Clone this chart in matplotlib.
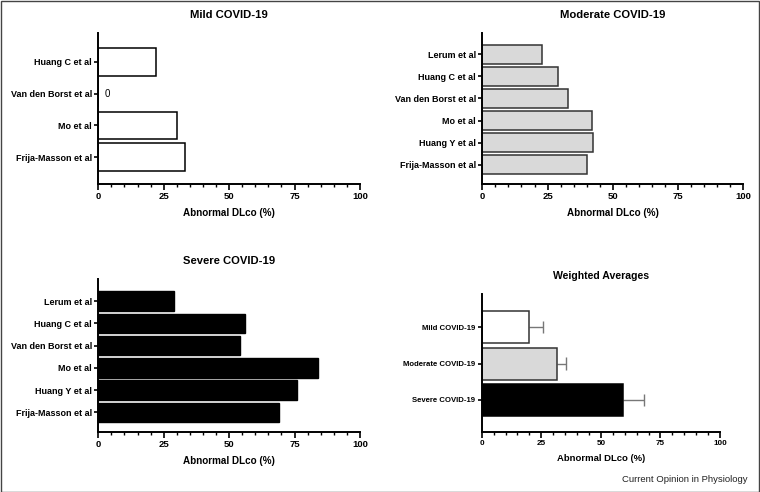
import matplotlib
matplotlib.use("Agg")
import matplotlib.pyplot as plt
from matplotlib.ticker import MultipleLocator
from matplotlib.patches import Rectangle

plt.rcParams['font.family'] = ['Liberation Sans', 'DejaVu Sans']

# ---- data ----
mild_studies = ["Frija-Masson et al", "Mo et al", "Van den Borst et al", "Huang C et al"]
mild_values = [33, 30, 0, 22]

moderate_studies = ["Frija-Masson et al", "Huang Y et al", "Mo et al",
                    "Van den Borst et al", "Huang C et al", "Lerum et al"]
moderate_values = [40, 42.3, 42, 33, 29, 23]

severe_studies = ["Frija-Masson et al", "Huang Y et al", "Mo et al",
                  "Van den Borst et al", "Huang C et al", "Lerum et al"]
severe_values = [69, 76, 84, 54, 56, 29]

avg_groups = ["Severe COVID-19", "Moderate COVID-19", "Mild COVID-19"]
avg_values = [59.5, 31.7, 20]
avg_errors = [8.7, 3.6, 5.9]

xticks = [0, 25, 50, 75, 100]
xlabel = "Abnormal DLco (%)"

W, H = 760, 492
fig = plt.figure(figsize=(W / 100, H / 100), dpi=100)


def axes_px(l, r, t, b):
    return fig.add_axes([l / W, 1 - b / H, (r - l) / W, (b - t) / H])


def style(ax, labels, tick_fs, xl_fs, ylim):
    ax.set_xlim(0, 100)
    ax.set_ylim(*ylim)
    for s in ("top", "right"):
        ax.spines[s].set_visible(False)
    for s in ("left", "bottom"):
        ax.spines[s].set_linewidth(1.4)
        ax.spines[s].set_color("black")
    ax.set_xticks(xticks)
    ax.xaxis.set_minor_locator(MultipleLocator(5))
    ax.set_yticks(range(len(labels)))
    ax.set_yticklabels(labels, fontsize=tick_fs, fontweight="bold")
    ax.tick_params(axis="x", which="major", length=4, width=1.2, labelsize=tick_fs + 0.3, pad=2)
    for t in ax.get_xticklabels():
        t.set_fontweight("bold")
    ax.tick_params(axis="x", which="minor", length=2.5, width=1.0)
    ax.tick_params(axis="y", which="major", length=3, width=1.2, pad=1.5)
    ax.set_xlabel(xlabel, fontsize=xl_fs, fontweight="bold", labelpad=5)


# Mild
ax1 = axes_px(98.3, 360, 33, 184)
y1 = list(range(len(mild_studies)))
ax1.barh(y1, mild_values, height=0.86, color="white", edgecolor="black", linewidth=1.1)
for yi, v in zip(y1, mild_values):
    if v == 0:
        ax1.text(2.5, yi, "0", fontsize=7, va="center", ha="left")
style(ax1, mild_studies, 6.5, 7.1, (-0.85, 3.91))
ax1.set_title("Mild COVID-19", fontsize=8.1, fontweight="bold", pad=11)

# Moderate
ax2 = axes_px(482.3, 743.3, 33, 184)
y2 = list(range(len(moderate_studies)))
ax2.barh(y2, moderate_values, height=0.86, color="#d9d9d9", edgecolor="#333333", linewidth=1.1)
style(ax2, moderate_studies, 6.5, 7.1, (-0.86, 5.95))
ax2.set_title("Moderate COVID-19", fontsize=8.1, fontweight="bold", pad=11)

# Severe
ax3 = axes_px(98.3, 360, 279, 431.7)
y3 = list(range(len(severe_studies)))
ax3.barh(y3, severe_values, height=0.88, color="black", edgecolor="black", linewidth=1.0)
style(ax3, severe_studies, 6.5, 7.1, (-0.87, 6.0))
ax3.set_title("Severe COVID-19", fontsize=8.1, fontweight="bold", pad=11)

# Weighted averages
ax4 = axes_px(481.7, 720, 294.3, 431.7)
y4 = list(range(len(avg_groups)))
colors = ["black", "#d9d9d9", "white"]
edges = ["black", "#333333", "#333333"]
for yi, v, e, c, ec in zip(y4, avg_values, avg_errors, colors, edges):
    ax4.barh(yi, v, height=0.88, color=c, edgecolor=ec, linewidth=1.1, zorder=2)
    ax4.errorbar(v + e / 2, yi, xerr=[[e / 2], [e / 2]], fmt="none", ecolor="#777777",
                 elinewidth=1.0, capsize=0, zorder=1)
    ax4.errorbar(v + e, yi, yerr=0.17, fmt="none", ecolor="#777777", elinewidth=1.0,
                 capsize=0, zorder=1)
style(ax4, avg_groups, 5.6, 6.8, (-0.87, 2.9))
ax4.set_title("Weighted Averages", fontsize=7.6, fontweight="bold", pad=11)

fig.text(748 / W, 1 - 479 / H, "Current Opinion in Physiology", fontsize=6.8,
         ha="right", va="center", color="#222222")

fig.patches.append(Rectangle((0.5 / W, 0.5 / H), 1 - 1.5 / W, 1 - 1.5 / H, transform=fig.transFigure,
                             fill=False, edgecolor="#444444", linewidth=1.0))

fig.savefig("out.png", dpi=100)
